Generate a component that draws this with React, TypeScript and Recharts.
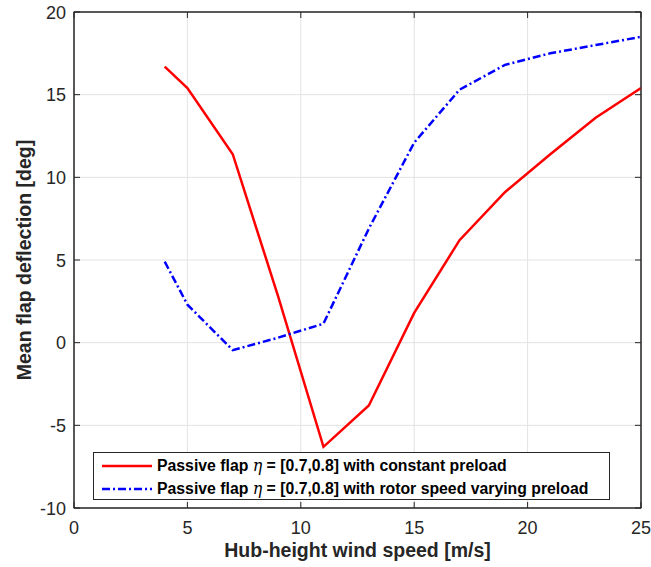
import * as R from "recharts";
import { CartesianGrid, Legend, Line, LineChart, XAxis, YAxis } from "recharts";

document.body.style.margin = "0";

const windSpeed = [4, 5, 7, 9, 11, 13, 15, 17, 19, 21, 23, 25];
const constantPreload = [16.7, 15.4, 11.4, 2.8, -6.3, -3.8, 1.8, 6.2, 9.1, 11.4, 13.6, 15.4];
const varyingPreload = [4.9, 2.3, -0.45, 0.3, 1.15, 6.9, 12.1, 15.3, 16.8, 17.5, 18.0, 18.5];
const xTicks = [0, 5, 10, 15, 20, 25];
const yTicks = [-10, -5, 0, 5, 10, 15, 20];
const legendSuffix = ["with constant preload", "with rotor speed varying preload"];

const rows = windSpeed.map((w, i) => ({
  w,
  constant: constantPreload[i],
  varying: varyingPreload[i],
}));

const AXIS = "#262626";
const FONT = "'Liberation Sans', Arial, sans-serif";
const DASHDOT = "8 3 2 3";

// negative tickSize = MATLAB-style ticks pointing into the plot
const TICK_IN = -6;

const usePlotArea: any = (R as any).usePlotArea;

// box around the plot area, drawn on top of the grid
function Frame() {
  const area = usePlotArea ? usePlotArea() : null;
  if (!area) return null;
  return (
    <rect
      x={area.x}
      y={area.y}
      width={area.width}
      height={area.height}
      fill="none"
      stroke={AXIS}
      strokeWidth={1}
    />
  );
}

function BottomTick({ x, y, payload }: any) {
  return (
    <text x={x} y={y + 13.5} textAnchor="middle" fontSize={18} fill={AXIS} fontFamily={FONT}>
      {payload.value}
    </text>
  );
}

function LeftTick({ x, y, payload }: any) {
  return (
    <text x={x} y={y + 6.5} textAnchor="end" fontSize={18} fill={AXIS} fontFamily={FONT}>
      {payload.value}
    </text>
  );
}

function NoLabel() {
  return <g />;
}

function YLabel({ viewBox }: any) {
  const cx = viewBox.x + 31;
  const cy = viewBox.y + viewBox.height / 2;
  return (
    <text x={cx} y={cy} transform={`rotate(-90, ${cx}, ${cy})`} textAnchor="middle"
      fontSize={19.5} fontWeight="bold" fill={AXIS} fontFamily={FONT}>
      Mean flap deflection [deg]
    </text>
  );
}

function XLabel({ viewBox }: any) {
  const cx = viewBox.x + viewBox.width / 2;
  return (
    <text x={cx} y={viewBox.y + 49} textAnchor="middle"
      fontSize={19.5} fontWeight="bold" fill={AXIS} fontFamily={FONT}>
      Hub-height wind speed [m/s]
    </text>
  );
}

function LegendBox() {
  const entries = [
    { color: "#ff0000", dash: undefined, text: legendSuffix[0] },
    { color: "#0000ff", dash: DASHDOT, text: legendSuffix[1] },
  ];
  return (
    <div
      style={{
        boxSizing: "border-box",
        width: 517,
        height: 48,
        border: `1px solid ${AXIS}`,
        background: "#fff",
        padding: "1px 8px",
        fontFamily: FONT,
        fontWeight: "bold",
        fontSize: 15.8,
        color: "#000",
        lineHeight: "23px",
      }}
    >
      {entries.map((e) => (
        <div key={e.text} style={{ display: "flex", alignItems: "center", whiteSpace: "nowrap" }}>
          <svg width={50} height={10} style={{ marginRight: 5 }}>
            <line x1={0} x2={50} y1={5} y2={5} stroke={e.color} strokeWidth={2.5} strokeDasharray={e.dash} />
          </svg>
          <span>
            Passive flap{" "}
            <span style={{ fontFamily: "'DejaVu Serif', serif", fontStyle: "italic", fontWeight: "normal" }}>η</span>{" "}
            = [0.7,0.8] {e.text}
          </span>
        </div>
      ))}
    </div>
  );
}

export default function App() {
  return (
    <LineChart
      width={651}
      height={567}
      data={rows}
      margin={{ top: 11, right: 9, bottom: 0, left: 0 }}
      style={{ background: "#fff" }}
    >
      <CartesianGrid stroke="#e3e3e3" strokeWidth={1} />
      <XAxis dataKey="w" type="number" domain={[0, 25]} allowDataOverflow ticks={xTicks}
        stroke={AXIS} tickLine={{ stroke: AXIS }} tickSize={TICK_IN} tickMargin={18}
        tick={<BottomTick />} height={59} label={<XLabel />} interval={0} />
      <XAxis xAxisId="top" orientation="top" dataKey="w" type="number" domain={[0, 25]}
        allowDataOverflow ticks={xTicks} stroke={AXIS}
        tickLine={{ stroke: AXIS }} tickSize={TICK_IN} tick={<NoLabel />}
        height={1} interval={0} />
      <YAxis type="number" domain={[-10, 20]} allowDataOverflow ticks={yTicks} stroke={AXIS}
        tickLine={{ stroke: AXIS }} tickSize={TICK_IN} tickMargin={14}
        tick={<LeftTick />} width={74} label={<YLabel />} interval={0} />
      <YAxis yAxisId="right" orientation="right" type="number" domain={[-10, 20]}
        allowDataOverflow ticks={yTicks} stroke={AXIS}
        tickLine={{ stroke: AXIS }} tickSize={TICK_IN} tick={<NoLabel />}
        width={1} interval={0} />
      <Frame />
      <Line type="linear" dataKey="constant" stroke="#ff0000" strokeWidth={2.5}
        dot={false} isAnimationActive={false} />
      <Line type="linear" dataKey="varying" stroke="#0000ff" strokeWidth={2.5}
        strokeDasharray={DASHDOT} dot={false} isAnimationActive={false} />
      <Legend layout="vertical" align="center" verticalAlign="middle"
        content={<LegendBox />} wrapperStyle={{ left: 93, top: 452, width: "auto" }} />
    </LineChart>
  );
}
